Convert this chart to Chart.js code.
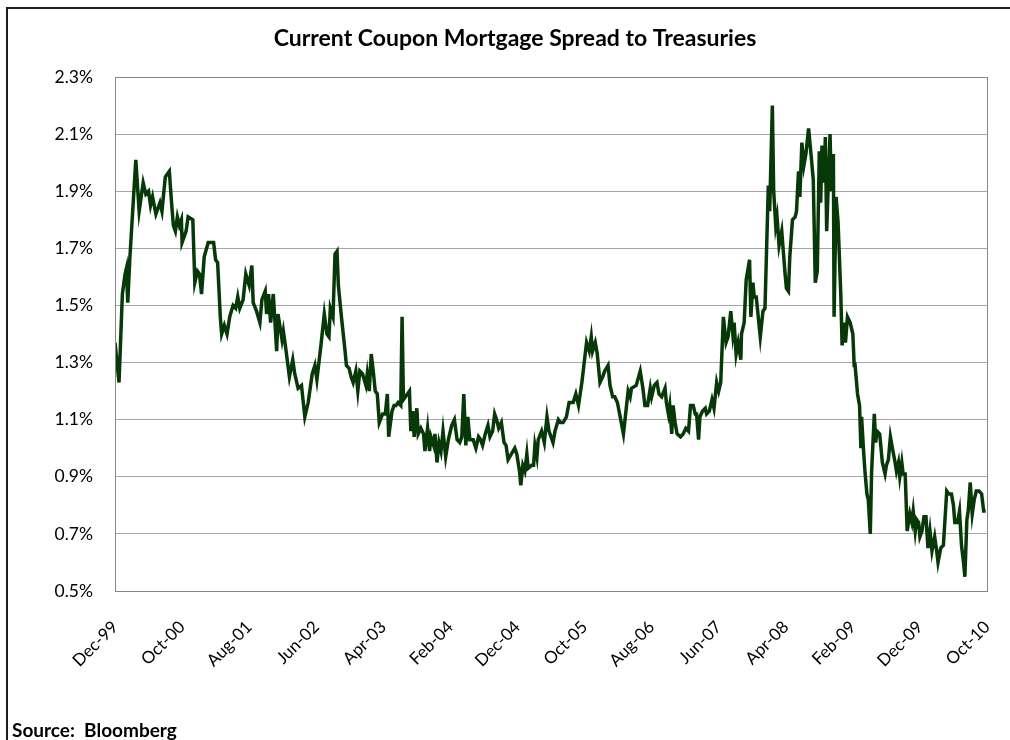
<!DOCTYPE html>
<html>
<head>
<meta charset="utf-8">
<script src="https://cdn.jsdelivr.net/npm/chart.js@4"></script>
<style>
  html, body { margin: 0; padding: 0; background: #ffffff; }
  #wrap { width: 1010px; height: 740px; position: relative; }
</style>
</head>
<body>
<div id="wrap"><canvas id="chart" width="1010" height="740"></canvas></div>
<script>
// months since Dec-99 and the current coupon MBS spread to Treasuries (%)
const months = [
    0, 0.6, 1.1, 1.5, 1.7, 1.9, 2.2, 3.1, 3.6, 4.2, 4.6, 5.0, 5.3, 5.6, 6.1, 6.7, 7.0, 7.5, 8.1, 8.4,
    8.7, 9.0, 9.3, 9.6, 9.9, 10.0, 10.6, 10.9, 11.6, 11.9, 12.3, 12.6, 12.9, 13.3, 13.9, 14.7, 15.0, 15.3, 15.7, 15.9,
    16.3, 16.7, 17.1, 17.6, 18.0, 18.3, 18.6, 19.1, 19.5, 20.0, 20.4, 20.6, 21.1, 21.6, 21.9, 22.4, 22.6, 22.9, 23.2, 23.6,
    24.1, 24.3, 24.9, 25.1, 25.4, 26.0, 26.5, 26.8, 27.3, 27.8, 28.3, 28.8, 29.4, 29.8, 30.1, 30.4, 30.7, 31.2, 31.6, 31.9,
    32.1, 32.5, 32.8, 33.1, 33.3, 33.8, 34.3, 34.5, 34.9, 35.2, 35.5, 35.9, 36.2, 36.5, 36.9, 37.4, 37.6, 37.9, 38.2, 38.5,
    38.8, 39.1, 39.4, 39.9, 40.3, 40.6, 40.8, 41.3, 41.6, 41.9, 42.2, 42.6, 42.8, 43.0, 43.6, 43.9, 44.1, 44.4, 44.6, 45.0,
    45.2, 45.6, 46.0, 46.2, 46.6, 46.9, 47.1, 47.5, 47.7, 48.0, 48.3, 48.6, 48.9, 49.3, 49.7, 50.2, 50.6, 51.0, 51.4, 51.7,
    52.0, 52.3, 52.6, 52.9, 53.4, 53.8, 54.2, 54.5, 54.8, 55.2, 55.6, 55.9, 56.3, 56.6, 56.9, 57.2, 57.6, 58.0, 58.3, 58.6,
    59.1, 59.6, 59.9, 60.3, 60.5, 60.8, 61.1, 61.4, 61.6, 62.1, 62.4, 62.6, 62.9, 63.1, 63.6, 64.0, 64.4, 64.7, 65.3, 65.6,
    66.1, 66.4, 66.8, 67.3, 67.7, 68.3, 68.7, 69.1, 69.6, 69.9, 70.3, 70.7, 71.0, 71.2, 71.6, 71.9, 72.3, 72.7, 73.0, 73.5,
    73.8, 74.2, 74.5, 74.9, 75.8, 76.5, 76.8, 77.0, 77.7, 78.3, 78.7, 79.0, 79.4, 79.8, 80.0, 80.4, 80.8, 81.1, 81.5, 82.0,
    82.2, 82.5, 82.7, 83.0, 83.2, 83.5, 83.8, 84.3, 84.7, 85.1, 85.5, 85.8, 86.2, 86.5, 86.7, 87.0, 87.2, 87.6, 88.0, 88.2,
    88.6, 89.0, 89.3, 89.7, 90.0, 90.3, 90.7, 91.1, 91.4, 91.8, 92.1, 92.3, 92.6, 92.9, 93.3, 93.4, 93.8, 94.1, 94.6, 94.8,
    95.1, 95.3, 95.6, 96.2, 96.6, 96.9, 97.4, 97.6, 98.0, 98.2, 98.5, 98.7, 99.0, 99.4, 99.9, 100.1, 100.4, 100.6, 101.0, 101.4,
    101.6, 101.9, 102.1, 102.4, 102.7, 103.0, 103.4, 103.8, 104.1, 104.4, 104.7, 105.0, 105.2, 105.4, 105.7, 105.9, 106.1, 106.3, 106.6, 106.8,
    107.1, 107.2, 107.5, 107.8, 108.2, 108.4, 108.7, 108.9, 109.2, 109.6, 110.0, 110.2, 110.3, 110.7, 111.0, 111.2, 111.3, 111.6, 111.8, 112.1,
    112.3, 112.6, 112.8, 113.2, 113.4, 113.6, 114.0, 114.4, 114.8, 115.0, 115.3, 115.6, 115.9, 116.3, 116.5, 116.8, 117.0, 117.3, 117.5, 117.8,
    118.1, 118.5, 118.8, 119.0, 119.3, 119.5, 119.8, 120.0, 120.3, 120.6, 120.9, 121.2, 121.5, 121.8, 122.2, 122.5, 122.7, 123.1, 123.5, 124.0,
    124.3, 124.7, 125.0, 125.2, 125.6, 125.9, 126.2, 126.5, 126.7, 127.0, 127.2, 127.5, 127.8, 128.1, 128.4, 128.8, 129.2, 129.5, 129.8
];
const spread = [
    1.37, 1.23, 1.54, 1.61, 1.63, 1.51, 1.66, 2.01, 1.83, 1.93, 1.89, 1.90, 1.85, 1.88, 1.82, 1.86, 1.83, 1.95, 1.97, 1.87,
    1.78, 1.76, 1.81, 1.78, 1.80, 1.72, 1.76, 1.81, 1.80, 1.58, 1.62, 1.61, 1.54, 1.67, 1.72, 1.72, 1.66, 1.65, 1.46, 1.40,
    1.43, 1.40, 1.46, 1.50, 1.49, 1.53, 1.49, 1.52, 1.61, 1.57, 1.64, 1.51, 1.48, 1.44, 1.52, 1.55, 1.47, 1.54, 1.44, 1.54,
    1.34, 1.47, 1.38, 1.41, 1.36, 1.25, 1.31, 1.26, 1.21, 1.22, 1.11, 1.16, 1.26, 1.29, 1.24, 1.30, 1.36, 1.47, 1.40, 1.39,
    1.49, 1.46, 1.68, 1.69, 1.57, 1.45, 1.34, 1.29, 1.28, 1.25, 1.23, 1.27, 1.20, 1.27, 1.26, 1.22, 1.26, 1.20, 1.33, 1.27,
    1.20, 1.19, 1.09, 1.12, 1.12, 1.19, 1.04, 1.13, 1.15, 1.15, 1.16, 1.15, 1.46, 1.17, 1.19, 1.20, 1.06, 1.13, 1.04, 1.14,
    1.05, 1.07, 1.05, 0.99, 1.07, 0.99, 1.04, 1.01, 1.05, 0.95, 1.02, 0.99, 1.06, 0.97, 1.03, 1.08, 1.10, 1.03, 1.02, 1.04,
    1.19, 1.01, 1.11, 1.03, 1.03, 1.00, 1.04, 1.03, 1.01, 1.05, 1.08, 1.04, 1.06, 1.12, 1.10, 1.07, 1.09, 1.02, 1.01, 0.96,
    0.98, 1.00, 0.98, 0.92, 0.87, 0.94, 0.92, 0.98, 0.93, 0.94, 0.94, 1.01, 0.97, 1.03, 1.06, 1.02, 1.11, 1.06, 1.02, 1.06,
    1.10, 1.09, 1.09, 1.11, 1.16, 1.16, 1.19, 1.15, 1.23, 1.29, 1.37, 1.34, 1.39, 1.34, 1.37, 1.33, 1.23, 1.25, 1.27, 1.29,
    1.22, 1.18, 1.18, 1.16, 1.05, 1.20, 1.18, 1.21, 1.22, 1.27, 1.21, 1.15, 1.15, 1.21, 1.18, 1.22, 1.23, 1.19, 1.18, 1.21,
    1.16, 1.12, 1.15, 1.05, 1.15, 1.09, 1.05, 1.04, 1.05, 1.07, 1.06, 1.15, 1.15, 1.12, 1.12, 1.03, 1.11, 1.13, 1.14, 1.12,
    1.13, 1.17, 1.14, 1.23, 1.20, 1.23, 1.46, 1.37, 1.39, 1.48, 1.40, 1.44, 1.33, 1.37, 1.31, 1.40, 1.44, 1.59, 1.66, 1.46,
    1.58, 1.53, 1.53, 1.39, 1.48, 1.49, 1.92, 1.83, 2.20, 1.90, 1.78, 1.81, 1.71, 1.76, 1.61, 1.56, 1.55, 1.67, 1.80, 1.81,
    1.83, 1.97, 1.88, 2.07, 1.99, 2.03, 2.12, 2.02, 1.94, 1.58, 1.62, 2.04, 1.86, 2.06, 1.93, 2.09, 1.76, 1.90, 2.10, 1.90,
    2.03, 1.46, 1.88, 1.79, 1.54, 1.36, 1.44, 1.37, 1.46, 1.44, 1.40, 1.29, 1.30, 1.19, 1.15, 1.00, 1.11, 0.99, 0.92, 0.84,
    0.82, 0.70, 0.92, 1.12, 1.02, 1.06, 1.05, 0.95, 0.91, 0.94, 0.96, 1.04, 1.00, 0.95, 0.92, 0.95, 0.90, 0.95, 0.91, 0.91,
    0.71, 0.77, 0.74, 0.78, 0.71, 0.75, 0.74, 0.69, 0.71, 0.76, 0.76, 0.65, 0.71, 0.64, 0.69, 0.64, 0.60, 0.65, 0.66, 0.85,
    0.84, 0.84, 0.80, 0.74, 0.74, 0.78, 0.66, 0.60, 0.55, 0.75, 0.78, 0.88, 0.77, 0.82, 0.85, 0.85, 0.84, 0.78, 0.78
];
const xTickLabels = ['Dec-99', 'Oct-00', 'Aug-01', 'Jun-02', 'Apr-03', 'Feb-04', 'Dec-04',
    'Oct-05', 'Aug-06', 'Jun-07', 'Apr-08', 'Feb-09', 'Dec-09', 'Oct-10'];
const xTickMonths = [0, 10, 20, 30, 40, 50, 60, 70, 80, 90, 100, 110, 120, 130];
const yTickValues = [0.5, 0.7, 0.9, 1.1, 1.3, 1.5, 1.7, 1.9, 2.1, 2.3];

const chartTitle = 'Current Coupon Mortgage Spread to Treasuries';
const sourceNote = 'Source:  Bloomberg';

const lineColor = '#073807';
const gridColor = '#a6a6a6';
const fontFamily = 'Lato, "Open Sans", sans-serif';

// frame, plot border, title and source line
const decorations = {
    id: 'decorations',
    afterDraw(chart) {
        const ctx = chart.ctx;
        const area = chart.chartArea;
        ctx.save();
        ctx.strokeStyle = '#868686';
        ctx.lineWidth = 1;
        ctx.strokeRect(area.left + 0.5, area.top + 0.5, area.right - area.left, area.bottom - area.top);

        ctx.strokeStyle = '#1e1e1e';
        ctx.lineWidth = 2;
        ctx.beginPath();
        ctx.moveTo(1010, 8);
        ctx.lineTo(7, 8);
        ctx.lineTo(7, 740);
        ctx.stroke();

        ctx.fillStyle = '#000000';
        ctx.textAlign = 'center';
        ctx.textBaseline = 'alphabetic';
        ctx.font = 'bold 23px ' + fontFamily;
        ctx.fillText(chartTitle, 515, 46);

        ctx.textAlign = 'left';
        ctx.font = 'bold 19px ' + fontFamily;
        ctx.fillText(sourceNote, 12, 737);
        ctx.restore();
    }
};

function createSpreadChart(ctx) {
    const points = months.map((m, i) => ({ x: m, y: spread[i] }));
    return new Chart(ctx, {
        type: 'line',
        data: {
            datasets: [{
                data: points,
                borderColor: lineColor,
                borderWidth: 3.5,
                pointRadius: 0,
                tension: 0,
                fill: false
            }]
        },
        options: {
            responsive: false,
            animation: false,
            layout: {
                padding: { left: 0, right: 23, top: 77, bottom: 0 }
            },
            scales: {
                x: {
                    type: 'linear',
                    min: 0,
                    max: 130,
                    afterFit: scale => {
                        // rotated labels end at their tick, keep the plot edge fixed
                        scale.height = 149;
                        scale.paddingLeft = 0;
                        scale.paddingRight = 0;
                    },
                    afterBuildTicks: scale => {
                        scale.ticks = xTickMonths.map(v => ({ value: v }));
                    },
                    grid: { display: false },
                    border: { display: false },
                    ticks: {
                        autoSkip: false,
                        minRotation: 45,
                        maxRotation: 45,
                        padding: 18,
                        color: '#000000',
                        font: { family: fontFamily, size: 17 },
                        callback: (value, index) => xTickLabels[index]
                    }
                },
                y: {
                    min: 0.5,
                    max: 2.3,
                    afterFit: scale => { scale.width = 115; },
                    afterBuildTicks: scale => {
                        scale.ticks = yTickValues.map(v => ({ value: v }));
                    },
                    grid: { color: gridColor, lineWidth: 1, drawTicks: false },
                    border: { display: false },
                    ticks: {
                        padding: 22,
                        color: '#000000',
                        font: { family: fontFamily, size: 17.5 },
                        callback: value => value.toFixed(1) + '%'
                    }
                }
            },
            plugins: {
                legend: { display: false },
                tooltip: { enabled: false },
                title: { display: false }
            }
        },
        plugins: [decorations]
    });
}

createSpreadChart(document.getElementById('chart').getContext('2d'));
</script>
</body>
</html>
